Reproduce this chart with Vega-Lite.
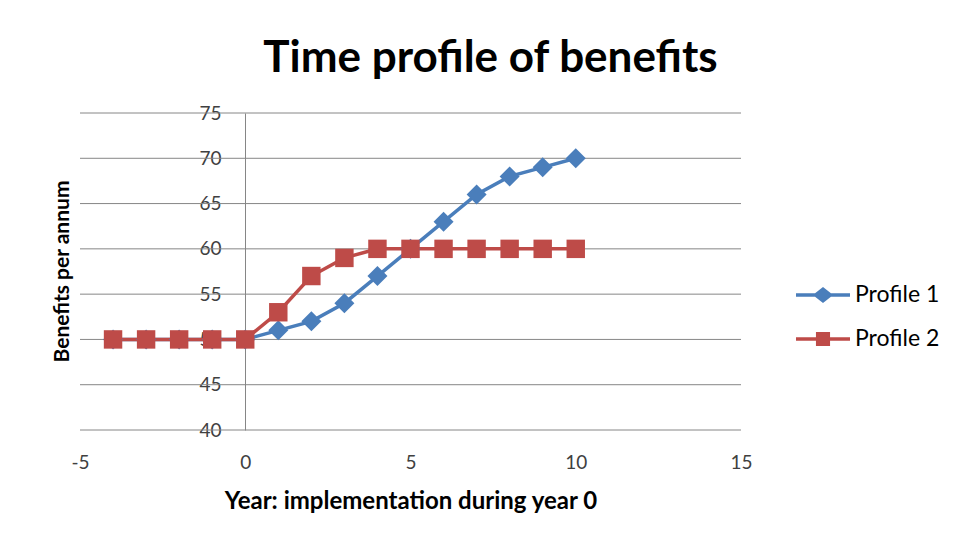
{
  "$schema": "https://vega.github.io/schema/vega-lite/v6.json",
  "width": 661,
  "height": 317,
  "autosize": "none",
  "padding": {"left": 80, "top": 113, "right": 220, "bottom": 113},
  "background": "white",
  "config": {
    "font": "Lato",
    "view": {"stroke": null}
  },
  "title": {
    "text": "Time profile of benefits",
    "fontSize": 44,
    "fontWeight": "bold",
    "color": "#000000",
    "anchor": "middle",
    "frame": "group",
    "dx": 80,
    "offset": 23
  },
  "data": {
    "values": [
      {"year": -4, "series": "Profile 1", "benefit": 50},
      {"year": -3, "series": "Profile 1", "benefit": 50},
      {"year": -2, "series": "Profile 1", "benefit": 50},
      {"year": -1, "series": "Profile 1", "benefit": 50},
      {"year": 0, "series": "Profile 1", "benefit": 50},
      {"year": 1, "series": "Profile 1", "benefit": 51},
      {"year": 2, "series": "Profile 1", "benefit": 52},
      {"year": 3, "series": "Profile 1", "benefit": 54},
      {"year": 4, "series": "Profile 1", "benefit": 57},
      {"year": 5, "series": "Profile 1", "benefit": 60},
      {"year": 6, "series": "Profile 1", "benefit": 63},
      {"year": 7, "series": "Profile 1", "benefit": 66},
      {"year": 8, "series": "Profile 1", "benefit": 68},
      {"year": 9, "series": "Profile 1", "benefit": 69},
      {"year": 10, "series": "Profile 1", "benefit": 70},
      {"year": -4, "series": "Profile 2", "benefit": 50},
      {"year": -3, "series": "Profile 2", "benefit": 50},
      {"year": -2, "series": "Profile 2", "benefit": 50},
      {"year": -1, "series": "Profile 2", "benefit": 50},
      {"year": 0, "series": "Profile 2", "benefit": 50},
      {"year": 1, "series": "Profile 2", "benefit": 53},
      {"year": 2, "series": "Profile 2", "benefit": 57},
      {"year": 3, "series": "Profile 2", "benefit": 59},
      {"year": 4, "series": "Profile 2", "benefit": 60},
      {"year": 5, "series": "Profile 2", "benefit": 60},
      {"year": 6, "series": "Profile 2", "benefit": 60},
      {"year": 7, "series": "Profile 2", "benefit": 60},
      {"year": 8, "series": "Profile 2", "benefit": 60},
      {"year": 9, "series": "Profile 2", "benefit": 60},
      {"year": 10, "series": "Profile 2", "benefit": 60}
    ]
  },
  "encoding": {
    "x": {
      "field": "year",
      "type": "quantitative",
      "scale": {"domain": [-5, 15], "nice": false, "zero": false},
      "axis": {
        "values": [-5, 0, 5, 10, 15],
        "labelExpr": "'' + datum.value",
        "title": "Year: implementation during year 0",
        "titleFontSize": 24,
        "titleFontWeight": "bold",
        "titleColor": "#000000",
        "titlePadding": 17,
        "labelFontSize": 19,
        "labelColor": "#404040",
        "labelPadding": 23,
        "labelFlush": false,
        "domain": false,
        "ticks": false,
        "grid": false
      }
    },
    "y": {
      "field": "benefit",
      "type": "quantitative",
      "scale": {"domain": [40, 75], "nice": false, "zero": false},
      "axis": {
        "values": [40, 45, 50, 55, 60, 65, 70, 75],
        "offset": -165,
        "title": "Benefits per annum",
        "titleFontSize": 21,
        "titleFontWeight": "bold",
        "titleColor": "#000000",
        "titleX": -183,
        "titleY": 158,
        "titleAngle": -90,
        "titleAlign": "center",
        "titleBaseline": "middle",
        "labelFontSize": 19,
        "labelColor": "#404040",
        "labelPadding": 24,
        "ticks": false,
        "domain": true,
        "domainColor": "#868686",
        "domainWidth": 1,
        "grid": false
      }
    }
  },
  "layer": [
    {
      "mark": {"type": "rule", "color": "#868686", "strokeWidth": 1},
      "data": {"values": [{"g": 40}, {"g": 45}, {"g": 50}, {"g": 55}, {"g": 60}, {"g": 65}, {"g": 70}, {"g": 75}]},
      "encoding": {
        "y": {"field": "g", "type": "quantitative"},
        "x": {"value": 0},
        "x2": {"value": 661}
      }
    },
    {
      "mark": {"type": "line", "strokeWidth": 3.5},
      "encoding": {
        "detail": {"field": "series", "type": "nominal"},
        "color": {
          "condition": {"test": "datum.series === 'Profile 1'", "value": "#4A7EBB"},
          "value": "#BE4B48"
        }
      }
    },
    {
      "mark": {"type": "point", "filled": true, "opacity": 1},
      "encoding": {
        "color": {
          "condition": {"test": "datum.series === 'Profile 1'", "value": "#4A7EBB"},
          "value": "#BE4B48"
        },
        "shape": {
          "condition": {"test": "datum.series === 'Profile 1'", "value": "diamond"},
          "value": "square"
        },
        "size": {
          "condition": {"test": "datum.series === 'Profile 1'", "value": 400},
          "value": 340
        }
      }
    },
    {
      "mark": {"type": "point", "filled": true, "opacity": 0, "size": 900},
      "encoding": {
        "color": {
          "field": "series",
          "type": "nominal",
          "scale": {"domain": ["Profile 1", "Profile 2"], "range": ["#4A7EBB", "#BE4B48"]},
          "legend": {
            "title": null,
            "orient": "none",
            "legendX": 727,
            "legendY": 166,
            "labelFontSize": 23,
            "labelColor": "#000000",
            "labelOffset": 16,
            "rowPadding": 16,
            "symbolSize": 900,
            "symbolOpacity": 1
          }
        },
        "shape": {
          "field": "series",
          "type": "nominal",
          "scale": {
            "domain": ["Profile 1", "Profile 2"],
            "range": [
              "M-1.8,-0.117L-0.53,-0.117L0,-0.53L0.53,-0.117L1.8,-0.117L1.8,0.117L0.53,0.117L0,0.53L-0.53,0.117L-1.8,0.117Z",
              "M-1.8,-0.117L-0.47,-0.117L-0.47,-0.47L0.47,-0.47L0.47,-0.117L1.8,-0.117L1.8,0.117L0.47,0.117L0.47,0.47L-0.47,0.47L-0.47,0.117L-1.8,0.117Z"
            ]
          },
          "legend": {
            "title": null,
            "orient": "none",
            "legendX": 727,
            "legendY": 166,
            "labelFontSize": 23,
            "labelColor": "#000000",
            "labelOffset": 16,
            "rowPadding": 16,
            "symbolSize": 900,
            "symbolOpacity": 1
          }
        }
      }
    }
  ]
}
